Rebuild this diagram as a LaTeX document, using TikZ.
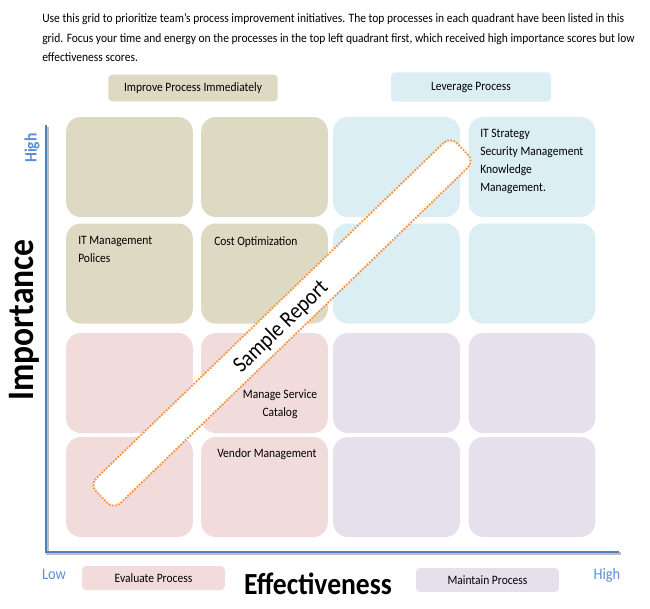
\documentclass[tikz,border=0pt]{standalone}
\usepackage{fontspec}
\setmainfont{Carlito}[FakeStretch=0.9]
\usetikzlibrary{positioning}
\definecolor{improveTan}{HTML}{DDD9C3}
\definecolor{leverageBlue}{HTML}{DAEEF3}
\definecolor{evaluatePink}{HTML}{F2DCDB}
\definecolor{maintainLilac}{HTML}{E5E0EC}
\definecolor{axisBlue}{HTML}{4F81BD}
\definecolor{scaleBlue}{HTML}{5B8DD6}
\definecolor{bandOrange}{HTML}{F79646}

\tikzset{
  cell/.style={rounded corners=11pt, minimum width=95pt, minimum height=75pt, inner sep=0pt},
  legend/.style={rounded corners=3pt, minimum width=107pt, minimum height=18pt, inner sep=0pt,
    font=\fontsize{9.6}{11}\selectfont},
  celltext/.style={inner sep=0pt, align=left, font=\fontsize{9.6}{13.6}\selectfont},
  scaletext/.style={text=scaleBlue, inner sep=0pt, font=\fontsize{12}{14}\selectfont},
  axistitle/.style={inner sep=0pt, font=\bfseries\fontsize{23}{27}\selectfont}
}

\begin{document}
\begin{tikzpicture}[x=0.75pt,y=-0.75pt]
   \useasboundingbox (0,0) rectangle (650,608);

   % intro text
   \node[anchor=north west, inner sep=0pt, align=left, font=\fontsize{9.6}{14.8}\selectfont] (intro) at (42,13)
     {Use this grid to prioritize team's process improvement initiatives. The top processes in each quadrant have been listed in this\\
      grid. Focus your time and energy on the processes in the top left quadrant first, which received high importance scores but low\\
      effectiveness scores.};

   % quadrant legends
   \node[legend, fill=improveTan, minimum width=127pt, minimum height=20pt] (improve) at (193,88) {Improve Process Immediately};
   \node[legend, fill=leverageBlue, minimum width=120pt, minimum height=22pt] (leverage) at (471,87) {Leverage Process};
   \node[legend, fill=evaluatePink] (evaluate) at (153.5,578) {Evaluate Process};
   \node[legend, fill=maintainLilac] (maintain) at (487.5,580) {Maintain Process};

   % grid of cells
   \foreach \r/\y in {1/167,2/273.5} {
      \foreach \c/\x in {1/129.5,2/264.5} \node[cell, fill=improveTan] (cell\r\c) at (\x,\y) {};
      \foreach \c/\x in {3/396.5,4/532} \node[cell, fill=leverageBlue] (cell\r\c) at (\x,\y) {};
   }
   \foreach \r/\y in {3/383,4/487} {
      \foreach \c/\x in {1/129.5,2/264.5} \node[cell, fill=evaluatePink] (cell\r\c) at (\x,\y) {};
      \foreach \c/\x in {3/396.5,4/532} \node[cell, fill=maintainLilac] (cell\r\c) at (\x,\y) {};
   }

   % processes
   \node[celltext, anchor=north west] (itmgmt) at (78,236) {IT Management\\Polices};
   \node[celltext, anchor=north west] (costopt) at (214,236) {Cost Optimization};
   \node[celltext, anchor=north west] (itstrat) at (480,129) {IT Strategy\\Security Management\\Knowledge\\Management.};
   \node[celltext, anchor=north, align=center] (catalog) at (280,389) {Manage Service\\Catalog};
   \node[celltext, anchor=north west] (vendor) at (217,448) {Vendor Management};

   % watermark band
   \node[draw=bandOrange, densely dotted, line width=1.4pt, fill=white, rounded corners=7pt,
         minimum width=376pt, minimum height=26pt, rotate=44] (band) at (282,323) {};
   \node[rotate=44, inner sep=0pt, font=\fontsize{17}{19}\selectfont] (sample) at (281,327) {Sample Report};

   % axes
   \coordinate (yTop) at (46,125);
   \coordinate (origin) at (46,552);
   \coordinate (xEnd) at (619,552);
   \draw[black!25, line width=2pt] ([shift={(1.5,1.5)}]yTop) -- ([shift={(1.5,1.5)}]origin) -- ([shift={(1.5,1.5)}]xEnd);
   \draw[axisBlue, line width=2.2pt] (yTop) -- (origin) -- (xEnd);

   \node[scaletext, font=\bfseries\fontsize{13}{15}\selectfont, rotate=90] (impHigh) at (32,148) {High};
   \node[scaletext] (effLow) at (54,574) {Low};
   \node[scaletext] (effHigh) at (607,575) {High};
   \node[axistitle, font=\bfseries\fontsize{28}{32}\selectfont, rotate=90] (importance) at (24,320) {Importance};
   \node[axistitle] (effectiveness) at (318,584) {Effectiveness};
\end{tikzpicture}
\end{document}
